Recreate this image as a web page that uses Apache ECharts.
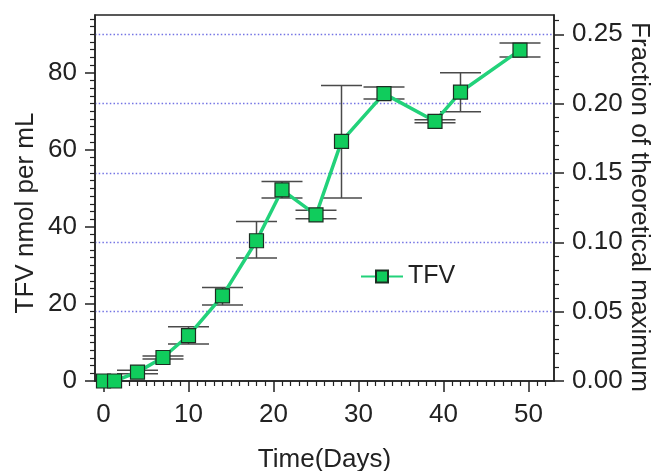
<!DOCTYPE html>
<html>
<head>
<meta charset="utf-8">
<script src="https://cdn.jsdelivr.net/npm/echarts@6/dist/echarts.min.js"></script>
<style>
html,body{margin:0;padding:0;background:#fff;}
#chart{width:657px;height:471px;}
</style>
</head>
<body>
<div id="chart"></div>
<script>
// ---- data ----
const days  = [0, 1.3, 4, 7, 10, 14, 18, 21, 25, 28, 33, 39, 42, 49];
const tfv   = [0, 0, 2.3, 6.1, 11.8, 22.1, 36.4, 49.6, 43.1, 62.2, 74.6, 67.4, 75.0, 85.9];
const upper = [0, 0, 2.8, 6.5, 14.1, 24.3, 41.4, 51.8, 44.3, 76.7, 76.3, 67.8, 80.0, 87.7];
const lower = [0, 0, 1.9, 5.7, 9.6, 19.7, 31.9, 47.5, 42.1, 47.5, 73.2, 67.0, 69.9, 84.1];

const xMajorTicks = [0, 10, 20, 30, 40, 50];
const yLeftMajorTicks = [0, 20, 40, 60, 80];
const yRightMajorTicks = [0, 0.05, 0.10, 0.15, 0.20, 0.25];
const theoreticalMax = 360; // nmol per mL corresponding to fraction 1.0

const seriesName = 'TFV';
const xName = 'Time(Days)';
const yLeftName = 'TFV nmol per mL';
const yRightName = 'Fraction of theoretical maximum';

// minor tick positions
const xMinor = [];
for (let v = 0; v <= 52; v++) if (v % 10 !== 0) xMinor.push(v);
const yLeftMinor = [];
for (let v = 2; v <= 94; v += 2) if (v % 20 !== 0) yLeftMinor.push(v);
const yRightMinor = [];
for (let k = 1; k <= 26; k++) if (k % 5 !== 0) yRightMinor.push(k / 100);

const FONT = "'Liberation Sans', Arial, sans-serif";
const AX = '#222';
const FS = 26;
const yLeftMax = 95;
const yRightMax = yLeftMax / theoreticalMax;

const chart = echarts.init(document.getElementById('chart'), null, {renderer: 'canvas'});

const baseAxis = {
  axisLine: {show: true, onZero: false, lineStyle: {color: AX, width: 1.5}},
  splitLine: {show: false},
  nameMoveOverlap: false
};
const minorAxis = {
  axisLine: {show: false, onZero: false},
  splitLine: {show: false},
  axisLabel: {show: false}
};

const option = {
  animation: false,
  backgroundColor: '#fff',
  textStyle: {fontFamily: FONT},
  grid: {left: 95, right: 103, top: 15, bottom: 90, containLabel: false, outerBoundsMode: 'none',
         show: true, borderColor: AX, borderWidth: 1.5, backgroundColor: 'transparent'},
  legend: {
    show: true, left: 355, top: 259, itemWidth: 42, itemHeight: 15,
    textStyle: {fontSize: 25, color: AX, fontFamily: FONT},
    data: [seriesName]
  },
  xAxis: [
    Object.assign({}, baseAxis, {
      type: 'value', min: -1, max: 53, position: 'bottom',
      axisTick: {show: true, inside: false, length: 11, customValues: xMajorTicks, lineStyle: {color: AX, width: 1.5}},
      axisLabel: {show: true, customValues: xMajorTicks, margin: 21, fontSize: FS, color: AX, fontFamily: FONT},
      name: xName, nameLocation: 'middle', nameGap: 66,
      nameTextStyle: {fontSize: FS, color: AX, fontFamily: FONT}
    }),
    Object.assign({}, minorAxis, {
      type: 'value', min: -1, max: 53, position: 'bottom',
      axisTick: {show: true, inside: false, length: 5, customValues: xMinor, lineStyle: {color: AX, width: 1.2}}
    })
  ],
  yAxis: [
    Object.assign({}, baseAxis, {
      type: 'value', min: 0, max: yLeftMax, position: 'left',
      axisTick: {show: true, inside: false, length: 10, customValues: yLeftMajorTicks, lineStyle: {color: AX, width: 1.5}},
      axisLabel: {show: true, customValues: yLeftMajorTicks, margin: 18, fontSize: FS, color: AX, fontFamily: FONT},
      name: yLeftName, nameLocation: 'middle', nameGap: 56,
      nameTextStyle: {fontSize: FS, color: AX, fontFamily: FONT, padding: [0, 30, 0, 0]}
    }),
    Object.assign({}, minorAxis, {
      type: 'value', min: 0, max: yLeftMax, position: 'left',
      axisTick: {show: true, inside: false, length: 5, customValues: yLeftMinor, lineStyle: {color: AX, width: 1.2}}
    }),
    Object.assign({}, baseAxis, {
      type: 'value', min: 0, max: yRightMax, interval: 0.05, position: 'right',
      axisTick: {show: true, inside: false, length: 10, customValues: yRightMajorTicks, lineStyle: {color: AX, width: 1.5}},
      axisLabel: {show: true, customValues: yRightMajorTicks, margin: 18, fontSize: FS, color: AX, fontFamily: FONT,
                  formatter: v => Number(v).toFixed(2)},
      splitLine: {show: true, showMinLine: false, showMaxLine: true,
                  lineStyle: {color: '#7474e4', width: 1.4, type: [1.5, 2.2]}},
      name: yRightName, nameLocation: 'middle', nameGap: 72, nameRotate: -90,
      nameTextStyle: {fontSize: FS, color: AX, fontFamily: FONT, padding: [0, 0, 0, 18]}
    }),
    Object.assign({}, minorAxis, {
      type: 'value', min: 0, max: yRightMax, position: 'right',
      axisTick: {show: true, inside: false, length: 5, customValues: yRightMinor, lineStyle: {color: AX, width: 1.2}}
    })
  ],
  series: [
    {
      type: 'custom',
      name: 'err',
      xAxisIndex: 0, yAxisIndex: 0,
      z: 1,
      encode: {x: 0, y: [1, 2]},
      data: days.map((d, i) => [d, lower[i], upper[i]]),
      renderItem: function (params, api) {
        const x = api.value(0);
        const lo = api.coord([x, api.value(1)]);
        const hi = api.coord([x, api.value(2)]);
        const hw = 20.5;
        const st = {stroke: '#4a4a4a', lineWidth: 1.5, fill: null};
        if (api.value(1) === api.value(2)) return null;
        return {
          type: 'group',
          children: [
            {type: 'line', shape: {x1: hi[0], y1: hi[1], x2: lo[0], y2: lo[1]}, style: st},
            {type: 'line', shape: {x1: hi[0] - hw, y1: hi[1], x2: hi[0] + hw, y2: hi[1]}, style: st},
            {type: 'line', shape: {x1: lo[0] - hw, y1: lo[1], x2: lo[0] + hw, y2: lo[1]}, style: st}
          ]
        };
      }
    },
    {
      type: 'line',
      name: seriesName,
      xAxisIndex: 0, yAxisIndex: 0,
      z: 3,
      data: days.map((d, i) => [d, tfv[i]]),
      symbol: 'rect',
      symbolSize: 14,
      showAllSymbol: true,
      lineStyle: {color: '#22d27a', width: 3.5},
      itemStyle: {color: '#10cc5c', borderColor: '#1c2e22', borderWidth: 1.2},
      emphasis: {disabled: true}
    }
  ]
};
chart.setOption(option);
</script>
</body>
</html>
